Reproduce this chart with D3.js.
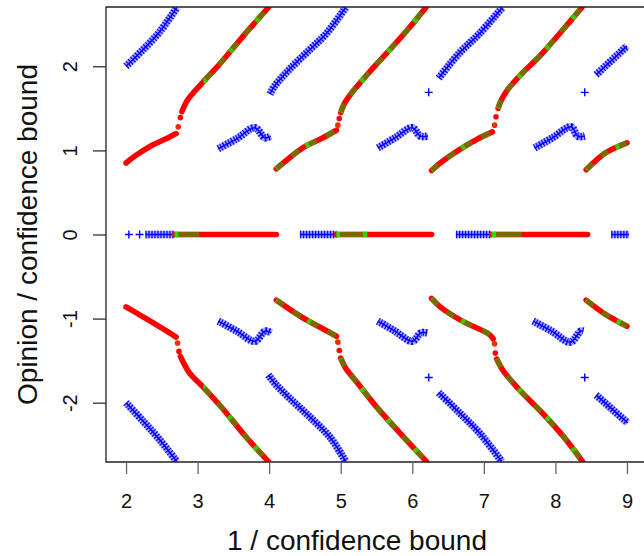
<!DOCTYPE html>
<html>
<head>
<meta charset="utf-8">
<script src="https://cdn.jsdelivr.net/npm/d3@7"></script>
<style>
  body { margin: 0; background: #fff; }
  text { font-family: "Liberation Sans", Arial, sans-serif; fill: #111; }
</style>
</head>
<body>
<svg id="chart" width="644" height="556"></svg>
<script>
// ---- values ----
const xTicks = [2, 3, 4, 5, 6, 7, 8, 9];
const yTicks = [-2, -1, 0, 1, 2];

// blue branches rising / falling out of the frame
const blueUpA = [[2.0, 2.0], [2.24, 2.20], [2.47, 2.41], [2.71, 2.70]];
const blueUpB = [[4.01, 1.67], [4.08, 1.77], [4.29, 1.97], [4.57, 2.20], [4.80, 2.39], [5.07, 2.70]];
const blueUpC = [[6.37, 1.86], [6.66, 2.16], [6.94, 2.39], [7.26, 2.70]];
const blueUpD = [[8.57, 1.90], [9.0, 2.24]];
const blueLoA = [[2.0, -2.0], [2.24, -2.22], [2.47, -2.44], [2.71, -2.70]];
const blueLoB = [[3.99, -1.67], [4.10, -1.79], [4.29, -1.95], [4.57, -2.17], [4.85, -2.41], [5.07, -2.70]];
const blueLoC = [[6.37, -1.88], [6.66, -2.12], [6.94, -2.36], [7.25, -2.70]];
const blueLoD = [[8.57, -1.91], [9.01, -2.24]];

// blue hooks near +-1.1
const hookUpA = [[3.29, 1.02], [3.55, 1.14], [3.80, 1.27], [3.94, 1.15], [4.02, 1.17]];
const hookUpB = [[5.52, 1.03], [5.76, 1.15], [6.0, 1.27], [6.11, 1.17], [6.22, 1.17]];
const hookUpC = [[7.71, 1.03], [7.96, 1.15], [8.22, 1.28], [8.31, 1.17], [8.41, 1.17]];
const hookLoA = [[3.29, -1.03], [3.55, -1.15], [3.80, -1.27], [3.94, -1.15], [4.03, -1.17]];
const hookLoB = [[5.52, -1.03], [5.76, -1.15], [6.0, -1.27], [6.12, -1.17], [6.21, -1.17]];
const hookLoC = [[7.69, -1.03], [7.95, -1.15], [8.21, -1.28], [8.35, -1.15], [8.39, -1.15]];

// single blue crosses
const blueSingles = [[2.04, 0], [2.19, 0], [6.23, 1.69], [8.41, 1.69], [6.23, -1.70], [8.41, -1.70]];

// opinion 0: x ranges
const blueZero = [[2.27, 2.68], [4.43, 4.94], [6.61, 7.11], [8.78, 9.03]];
const redZero = [[2.68, 4.10], [4.94, 6.27], [7.11, 8.45]];
const mixZero = [[2.68, 3.02], [4.94, 5.38], [7.11, 7.53]];
const greenZero = [[2.68, 2.73], [4.94, 4.99], [7.11, 7.17]];

// red branches (lower piece, jump, upper piece)
const redUpA1 = [[2.0, 0.85], [2.12, 0.93], [2.34, 1.05], [2.61, 1.16], [2.70, 1.20]];
const redUpA2 = [[2.78, 1.46], [2.86, 1.60], [3.03, 1.77], [3.26, 1.98], [3.49, 2.21], [3.73, 2.45], [3.99, 2.70]];
const redUpB1 = [[4.10, 0.78], [4.47, 1.03], [4.75, 1.15], [4.94, 1.24]];
const redUpB2 = [[5.0, 1.45], [5.06, 1.57], [5.15, 1.68], [5.41, 1.94], [5.69, 2.20], [5.97, 2.47], [6.19, 2.70]];
const redUpC1 = [[6.27, 0.76], [6.39, 0.85], [6.66, 1.01], [6.90, 1.13], [7.12, 1.22]];
const redUpC2 = [[7.20, 1.50], [7.24, 1.59], [7.33, 1.72], [7.54, 1.92], [7.78, 2.12], [8.06, 2.39], [8.37, 2.70]];
const redUpD = [[8.43, 0.77], [8.70, 0.97], [9.0, 1.09]];
const redLoA1 = [[2.0, -0.86], [2.34, -1.03], [2.57, -1.15], [2.70, -1.22]];
const redLoA2 = [[2.76, -1.45], [2.89, -1.65], [3.05, -1.79], [3.31, -2.03], [3.69, -2.42], [3.99, -2.70]];
const redLoB1 = [[4.10, -0.78], [4.47, -0.99], [4.75, -1.12], [4.94, -1.21]];
const redLoB2 = [[5.0, -1.47], [5.07, -1.59], [5.22, -1.75], [5.50, -2.05], [5.87, -2.40], [6.20, -2.70]];
const redLoC1 = [[6.27, -0.76], [6.39, -0.86], [6.70, -1.03], [7.08, -1.19], [7.13, -1.24]];
const redLoC2 = [[7.18, -1.48], [7.27, -1.62], [7.50, -1.85], [7.78, -2.09], [8.11, -2.40], [8.38, -2.70]];
const redLoD = [[8.43, -0.78], [8.70, -0.95], [9.0, -1.09]];
const redJumpDots = [[2.73, 1.28], [2.76, 1.39], [4.96, 1.30], [4.98, 1.38], [7.15, 1.30], [7.17, 1.40],
                     [2.72, -1.29], [2.74, -1.39], [4.96, -1.28], [4.98, -1.38], [7.15, -1.30], [7.16, -1.41]];

// x ranges where red and green points overlap
const mixBranches = [[3.08, 4.05], [4.08, 6.25], [6.26, 8.42], [8.42, 9.05]];

// ---- chart ----
const W = 644, H = 556;
const svg = d3.select("#chart");
const defs = svg.append("defs");

const x = d3.scaleLinear().domain([1.72, 9.28]).range([106, 647]);
const y = d3.scaleLinear().domain([-2.705, 2.705]).range([462, 7]);

defs.append("clipPath").attr("id", "plotclip")
  .append("rect").attr("x", 106).attr("y", 7).attr("width", 541).attr("height", 455);

const plot = svg.append("g").attr("clip-path", "url(#plotclip)");

const line = d3.line().x(d => x(d[0])).y(d => y(d[1])).curve(d3.curveCatmullRom.alpha(0.5));

function drawBlue(d) {
  plot.append("path").attr("d", d).attr("fill", "none")
    .attr("stroke", "#2020ff").attr("stroke-opacity", 0.4).attr("stroke-width", 7.5);
  plot.append("path").attr("d", d).attr("fill", "none")
    .attr("stroke", "#0a0aff").attr("stroke-width", 7.5).attr("stroke-dasharray", "1.3 1.7");
  plot.append("path").attr("d", d).attr("fill", "none")
    .attr("stroke", "#0000ff").attr("stroke-width", 1.5);
}

let clipN = 0;
function xClip(r) {
  const id = "xc" + (clipN++);
  defs.append("clipPath").attr("id", id).append("rect")
    .attr("x", x(r[0])).attr("width", x(r[1]) - x(r[0])).attr("y", 0).attr("height", H);
  return plot.append("g").attr("clip-path", `url(#${id})`);
}

function mixOverlay(d, ranges, solid) {
  ranges.forEach(r => {
    const g = xClip(r);
    g.append("path").attr("d", d).attr("fill", "none").attr("stroke", "#10c000")
      .attr("stroke-opacity", 0.55).attr("stroke-width", 5.6)
      .attr("stroke-dasharray", solid ? null : "9 11");
    g.append("path").attr("d", d).attr("fill", "none").attr("stroke", "#30d800")
      .attr("stroke-opacity", 0.9).attr("stroke-width", 5.6)
      .attr("stroke-dasharray", "4 36").attr("stroke-dashoffset", 3);
  });
}

function drawRed(pts) {
  const d = line(pts);
  plot.append("path").attr("d", d).attr("fill", "none").attr("stroke", "#ff0000")
    .attr("stroke-width", 5.6).attr("stroke-linecap", "round").attr("stroke-linejoin", "round");
  mixOverlay(d, mixBranches, false);
}

// blue
[blueUpA, blueUpB, blueUpC, blueUpD, blueLoA, blueLoB, blueLoC, blueLoD,
 hookUpA, hookUpB, hookUpC, hookLoA, hookLoB, hookLoC].forEach(p => drawBlue(line(p)));
blueZero.forEach(r => drawBlue(line([[r[0], 0], [r[1], 0]])));

plot.selectAll(".single").data(blueSingles).join("path").attr("class", "single")
  .attr("transform", d => `translate(${x(d[0])},${y(d[1])})`)
  .attr("d", "M-4,0H4M0,-4V4").attr("stroke", "#0000ff").attr("stroke-width", 1.4);

// red / green
[redUpA1, redUpA2, redUpB1, redUpB2, redUpC1, redUpC2, redUpD,
 redLoA1, redLoA2, redLoB1, redLoB2, redLoC1, redLoC2, redLoD].forEach(drawRed);

plot.selectAll(".jump").data(redJumpDots).join("circle").attr("class", "jump")
  .attr("cx", d => x(d[0])).attr("cy", d => y(d[1])).attr("r", 2.8)
  .attr("fill", (d, i) => i % 2 ? "#ff0000" : "#e83000");

redZero.forEach(r => {
  const d = line([[r[0], 0], [r[1], 0]]);
  plot.append("path").attr("d", d).attr("stroke", "#ff0000").attr("stroke-width", 5.6)
    .attr("stroke-linecap", "round");
});
const zeroLine = line([[2, 0], [9, 0]]);
mixOverlay(zeroLine, mixZero, true);
greenZero.forEach(r => {
  xClip(r).append("path").attr("d", zeroLine).attr("stroke", "#20e000").attr("stroke-width", 5.6);
});

// box
svg.append("path")
  .attr("d", "M647,7H106V462H647")
  .attr("fill", "none").attr("stroke", "#222").attr("stroke-width", 1.3);

// axes
const gx = svg.append("g").attr("transform", "translate(0,462)")
  .call(d3.axisBottom(x).tickValues(xTicks).tickSize(12).tickFormat(d => String(d)));
gx.select(".domain").remove();
gx.selectAll(".tick line").attr("stroke", "#666").attr("stroke-width", 1.3);
gx.selectAll(".tick text").attr("y", 46).attr("dy", null)
  .style("font-size", "20px").style("font-family", "'Liberation Sans', Arial, sans-serif").attr("fill", "#111");

const gy = svg.append("g").attr("transform", "translate(106,0)")
  .call(d3.axisLeft(y).tickValues(yTicks).tickSize(13).tickFormat(d => String(d)));
gy.select(".domain").remove();
gy.selectAll(".tick line").attr("stroke", "#333").attr("stroke-width", 1.3);
gy.selectAll(".tick text").attr("transform", "rotate(-90)").attr("x", 0).attr("y", -29)
  .attr("dy", null).attr("text-anchor", "middle")
  .style("font-size", "20px").style("font-family", "'Liberation Sans', Arial, sans-serif").attr("fill", "#111");

svg.append("text").attr("x", 357).attr("y", 550).attr("text-anchor", "middle")
  .style("font-size", "28px").text("1 / confidence bound");
svg.append("text").attr("transform", "translate(37,234.5) rotate(-90)").attr("text-anchor", "middle")
  .style("font-size", "28px").text("Opinion / confidence bound");
</script>
</body>
</html>
